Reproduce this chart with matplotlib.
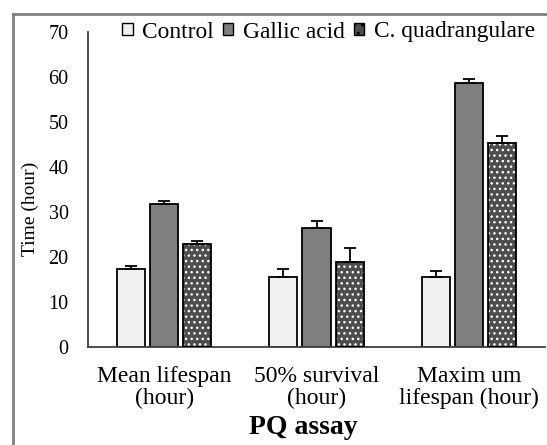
import matplotlib
matplotlib.use("Agg")
import matplotlib.pyplot as plt
import numpy as np
from matplotlib.lines import Line2D
from matplotlib.patches import Patch

categories = ["Mean lifespan\n(hour)", "50% survival\n(hour)", "Maxim um\nlifespan (hour)"]
series = ["Control", "Gallic acid", "C. quadrangulare"]
control = [17.3, 15.6, 15.6]
control_err = [0.7, 1.7, 1.2]
gallic = [31.8, 26.4, 58.6]
gallic_err = [0.7, 1.7, 0.9]
cq = [23.0, 19.0, 45.3]
cq_err = [0.6, 3.0, 1.7]
yticks = [0, 10, 20, 30, 40, 50, 60, 70]

plt.rcParams['font.family'] = ['Liberation Serif', 'DejaVu Serif']

fig = plt.figure(figsize=(5.47, 4.45), dpi=100)
ax = fig.add_axes([88/547, 1-347/445, 457/547, 315/445])

x = np.arange(len(categories))
w = 0.185
off = 0.218
ekw = dict(ecolor='black', elinewidth=1.3, capsize=4, capthick=1.3)

ax.bar(x - off, control, w, color='#f0f0f0', edgecolor='black', linewidth=1.3,
       yerr=[np.zeros(3), control_err], error_kw=ekw, zorder=2)
ax.bar(x, gallic, w, color='#7f7f7f', edgecolor='black', linewidth=1.3,
       yerr=[np.zeros(3), gallic_err], error_kw=ekw, zorder=2)
ax.bar(x + off, cq, w, color='#4d4d4d', edgecolor='white', hatch='...', linewidth=0,
       zorder=2)
ax.bar(x + off, cq, w, color='none', edgecolor='black', linewidth=1.3,
       yerr=[np.zeros(3), cq_err], error_kw=ekw, zorder=3)

ax.set_xlim(-0.5, 2.5)
ax.set_ylim(0, 70)
ax.set_yticks(yticks)
ax.set_yticklabels([str(t) for t in yticks], fontsize=14.5)
ax.set_xticks(x)
ax.set_xticklabels(categories, fontsize=17, linespacing=1.0)
ax.tick_params(axis='both', length=0)
ax.tick_params(axis='y', pad=14)
ax.tick_params(axis='x', pad=14)
for s in ['top', 'right']:
    ax.spines[s].set_visible(False)
for s in ['left', 'bottom']:
    ax.spines[s].set_color('#404040')
    ax.spines[s].set_linewidth(1.3)

ax.set_ylabel("Time (hour)", fontsize=14)
ax.yaxis.set_label_coords((39-88)/457, (347-209)/315)
fig.text(303/547, 1-427/445, "PQ assay", ha='center', va='center',
         fontsize=20, fontweight='bold')

handles = [Patch(facecolor='#f0f0f0', edgecolor='black', linewidth=1),
           Patch(facecolor='#7f7f7f', edgecolor='black', linewidth=1),
           Patch(facecolor='#4d4d4d', edgecolor='black', linewidth=1, hatch='..')]
leg = fig.legend(handles, series, loc='center left', bbox_to_anchor=(122/547, 1-32/445),
                 ncol=3, frameon=False, fontsize=16.8, handlelength=0.45,
                 handleheight=0.45, handletextpad=0.4, columnspacing=0.4,
                 borderaxespad=0, borderpad=0)

fig.add_artist(Line2D([13/547, 1.0], [1-14/445, 1-14/445], color='#808080', lw=2,
                      transform=fig.transFigure))
fig.add_artist(Line2D([13/547, 13/547], [0, 1-14/445], color='#808080', lw=2,
                      transform=fig.transFigure))

fig.savefig("out.png", dpi=100)
